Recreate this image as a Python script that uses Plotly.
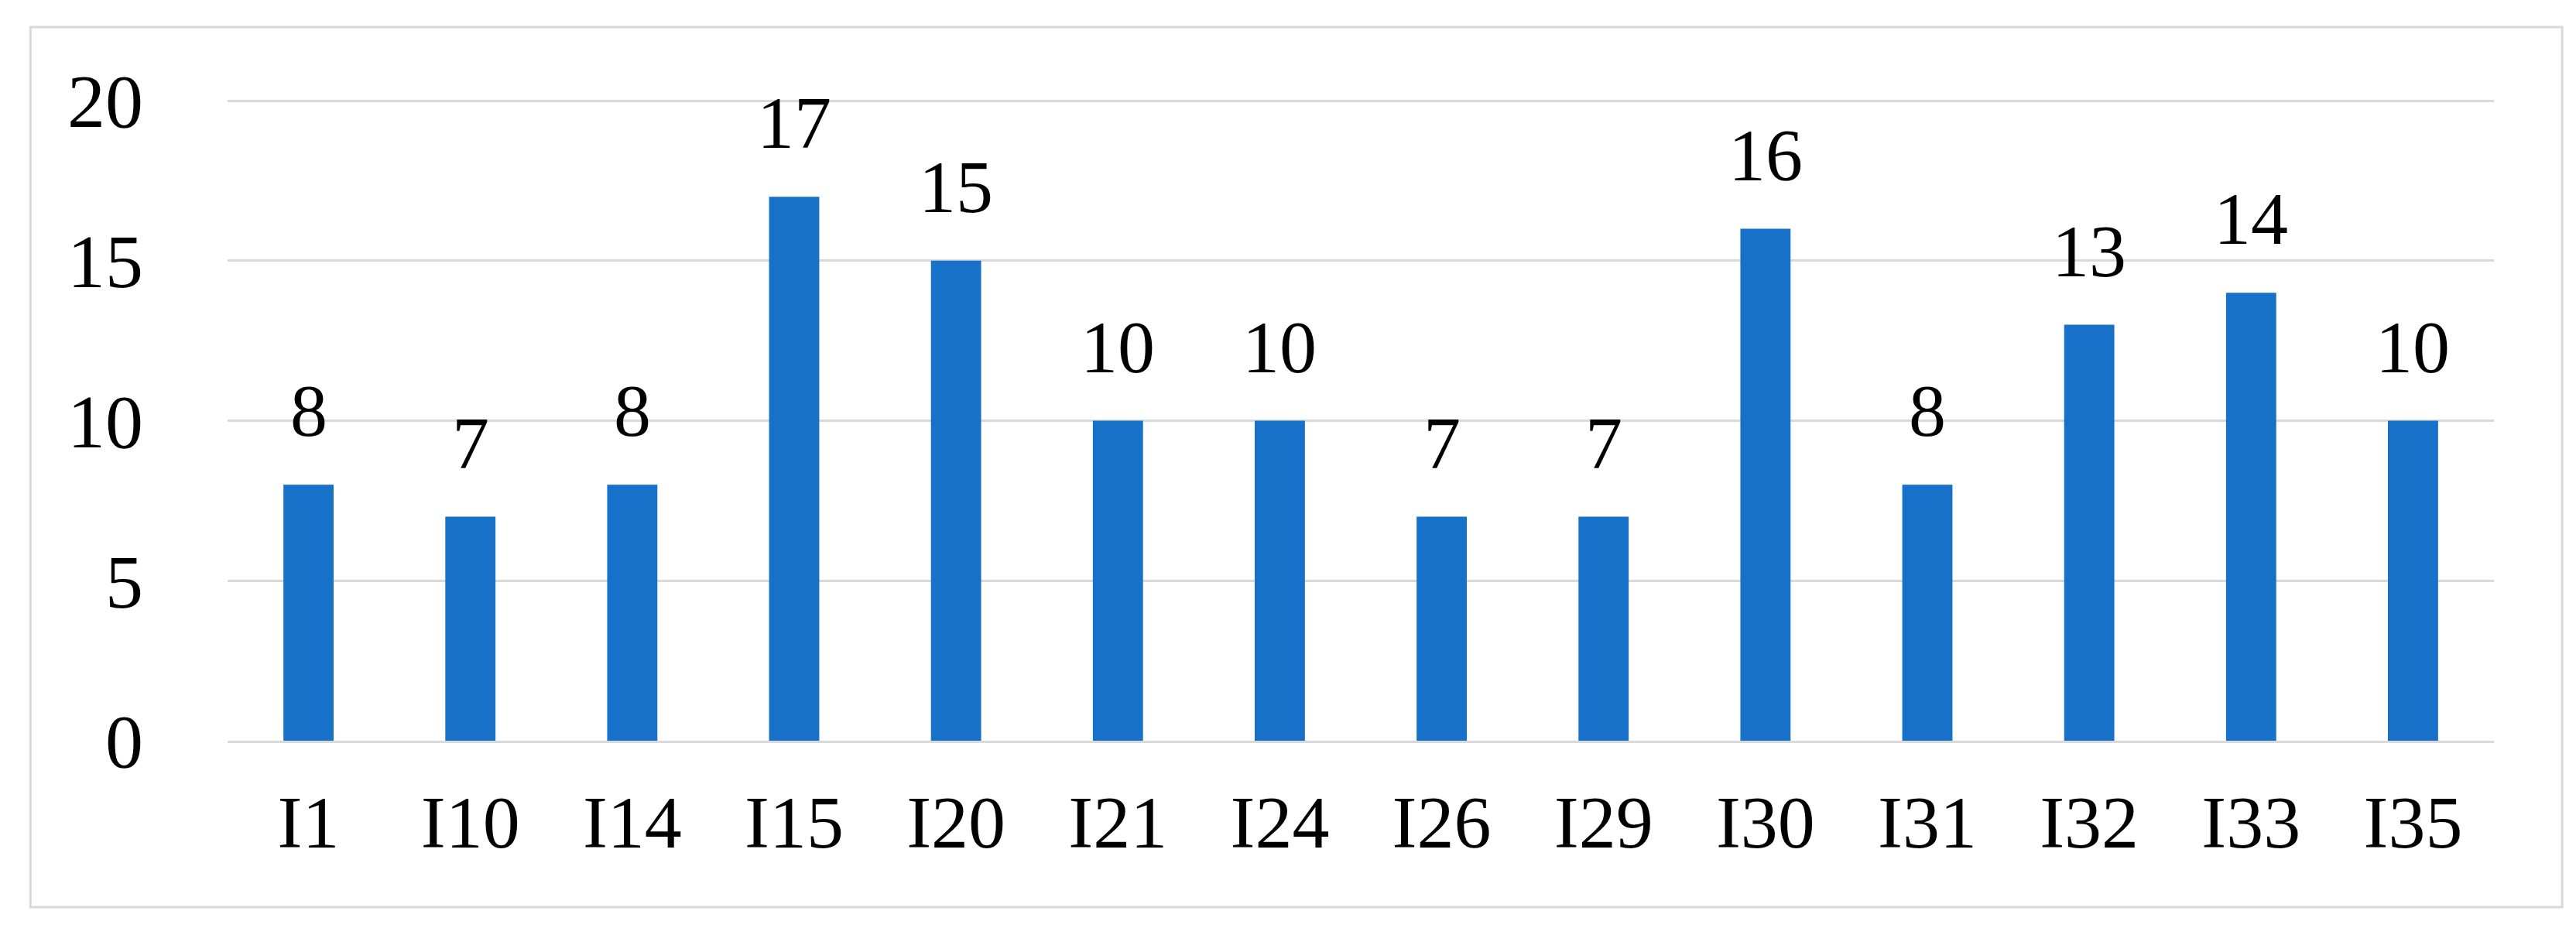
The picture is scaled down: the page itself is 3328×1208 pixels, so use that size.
import plotly.graph_objects as go

# Item counts per indicator
categories = ['I1', 'I10', 'I14', 'I15', 'I20', 'I21', 'I24', 'I26', 'I29',
              'I30', 'I31', 'I32', 'I33', 'I35']
values = [8, 7, 8, 17, 15, 10, 10, 7, 7, 16, 8, 13, 14, 10]
y_ticks = [0, 5, 10, 15, 20]

FONT = 'Liberation Serif'
BAR_COLOR = '#1771c9'
GRID = '#d9d9d9'

fig = go.Figure()

fig.add_trace(go.Bar(
    x=categories,
    y=values,
    marker=dict(color=BAR_COLOR, line=dict(width=0)),
    showlegend=False,
))

# value labels above bars (Excel-style gap)
for cat, val in zip(categories, values):
    fig.add_annotation(
        x=cat, y=val, text=str(val), showarrow=False,
        yanchor='bottom', yshift=40,
        font=dict(family=FONT, size=96, color='black'),
    )

# light gray frame around the whole chart
fig.add_shape(
    type='rect', xref='paper', yref='paper',
    x0=-0.087, x1=1.0301, y0=-0.2588, y1=1.1095,
    line=dict(color='#d9d9d9', width=3), layer='below',
)

fig.update_layout(
    width=3328,
    height=1208,
    margin=dict(l=286, r=114, t=118, b=259),
    paper_bgcolor='white',
    plot_bgcolor='white',
    bargap=0.69,
    font=dict(family=FONT, size=96, color='black'),
    xaxis=dict(
        showgrid=False,
        showline=True,
        linecolor=GRID,
        linewidth=3,
        ticks='',
        ticklabelstandoff=20,
        tickfont=dict(family=FONT, size=96, color='black'),
    ),
    yaxis=dict(
        range=[0, 20.1],
        tickvals=y_ticks,
        showgrid=True,
        gridcolor=GRID,
        gridwidth=3,
        zeroline=False,
        showline=False,
        ticks='',
        ticklabelstandoff=108,
        tickfont=dict(family=FONT, size=98, color='black'),
    ),
)

fig.write_html("out.html")
